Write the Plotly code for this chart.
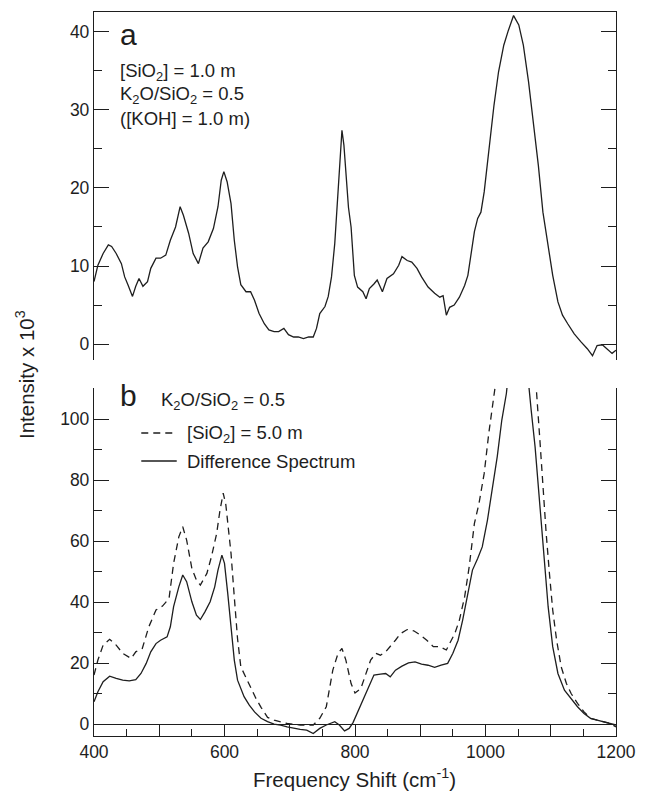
import plotly.graph_objects as go

# ---------------- data ----------------
# Panel a: [SiO2] = 1.0 m spectrum
a_freq = [400, 406, 414, 422, 427, 434, 442, 447, 452, 459, 464, 469, 475, 482, 487, 495, 502, 510, 517, 525,
          532, 537, 545, 552, 560, 567, 575, 583, 590, 595, 599, 604, 610, 615, 620, 625, 633, 640, 646, 653,
          661, 668, 676, 683, 691, 698, 706, 713, 721, 729, 736, 741, 746, 754, 759, 764, 769, 774, 777, 780,
          783, 787, 790, 794, 799, 804, 812, 817, 822, 829, 834, 842, 849, 859, 867, 872, 880, 887, 895, 902,
          912, 922, 930, 935, 940, 945, 952, 960, 968, 973, 978, 983, 988, 993, 998, 1005, 1013, 1020, 1028, 1035,
          1043, 1051, 1058, 1066, 1073, 1081, 1088, 1096, 1103, 1111, 1118, 1126, 1136, 1146, 1156, 1164, 1171, 1179, 1186, 1194,
          1200]
a_int = [8.0, 10.1, 11.6, 12.7, 12.5, 11.6, 10.3, 8.6, 7.6, 6.1, 7.4, 8.4, 7.4, 8.0, 9.7, 11.0, 11.0, 11.4, 13.3, 15.0,
         17.6, 16.5, 14.2, 11.6, 10.3, 12.3, 13.1, 14.8, 17.6, 21.0, 22.1, 20.8, 18.0, 13.3, 9.9, 7.6, 6.7, 6.7, 5.6, 3.9,
         2.6, 1.8, 1.6, 1.6, 2.0, 1.2, 0.9, 0.9, 0.7, 0.9, 0.9, 2.0, 3.9, 4.8, 6.1, 8.6, 12.9, 18.9, 23.5, 27.4,
         25.5, 20.5, 17.5, 15.0, 8.8, 7.3, 6.7, 5.8, 7.1, 7.7, 8.2, 6.7, 8.4, 9.0, 10.1, 11.2, 10.7, 10.5, 9.7, 8.6,
         7.3, 6.5, 6.0, 6.2, 3.7, 4.7, 5.0, 6.0, 7.5, 8.8, 11.4, 14.4, 16.1, 16.9, 19.5, 25.0, 30.6, 34.9, 38.3, 40.2,
         42.1, 40.9, 38.3, 33.6, 28.9, 22.9, 16.9, 12.6, 8.8, 5.4, 3.7, 2.6, 1.3, 0.3, -0.6, -1.5, -0.2, -0.1, -0.6, -1.2,
         -0.8]

# Panel b: [SiO2] = 5.0 m spectrum (dashed)
b_dash_freq = [400, 406, 414, 424, 434, 444, 457, 464, 474, 484, 495, 505, 515, 522, 530, 536, 542, 550, 557, 563,
               573, 580, 588, 593, 598, 602, 605, 610, 615, 620, 625, 632, 640, 648, 656, 666, 676, 696, 716, 736,
               746, 756, 766, 774, 780, 786, 794, 800, 809, 817, 824, 832, 839, 847, 854, 862, 870, 880, 890, 900,
               910, 920, 930, 940, 945, 953, 960, 968, 975, 983, 990, 998, 1005, 1013, 1020, 1030, 1040, 1050, 1060, 1070,
               1078, 1083, 1088, 1093, 1098, 1103, 1109, 1116, 1124, 1131, 1141, 1151, 1161, 1171, 1181, 1191, 1200]
b_dash = [16.1, 21.0, 25.9, 27.8, 25.9, 23.2, 21.5, 23.7, 24.8, 31.9, 37.4, 38.7, 41.2, 52.7, 61.4, 64.7, 60.3, 51.0, 47.2, 45.6,
          49.4, 54.9, 62.5, 70.0, 75.7, 72.0, 66.0, 56.0, 41.7, 28.0, 18.8, 15.5, 12.2, 8.5, 5.5, 2.2, 1.3, 0.2, -0.3, -0.3,
          1.9, 5.7, 17.7, 23.2, 24.8, 21.0, 13.3, 10.2, 11.7, 16.6, 21.0, 23.2, 22.6, 23.7, 25.4, 27.5, 29.7, 31.0, 30.6, 29.2,
          27.5, 25.4, 25.4, 24.3, 26.4, 29.7, 34.1, 41.7, 51.6, 65.8, 72.3, 82.2, 95.3, 108.4, 120.0, 138.0, 150.0, 150.0, 140.0, 125.0,
          109.5, 94.2, 77.8, 62.5, 49.4, 37.4, 27.5, 18.8, 13.3, 10.1, 6.8, 4.0, 1.9, 1.3, 0.8, 0.2, -0.9]

# Panel b: difference spectrum (solid)
b_diff_freq = [400, 406, 414, 424, 434, 444, 454, 464, 472, 480, 487, 495, 502, 512, 517, 522, 530, 536, 542, 550,
               557, 563, 570, 578, 585, 590, 596, 600, 605, 610, 615, 620, 625, 630, 638, 646, 656, 666, 676, 686,
               696, 706, 716, 726, 736, 746, 756, 769, 776, 784, 791, 797, 801, 807, 814, 822, 829, 839, 847, 854,
               862, 872, 882, 892, 902, 912, 922, 932, 942, 950, 958, 965, 973, 980, 988, 995, 1003, 1010, 1018, 1025,
               1032, 1040, 1050, 1060, 1066, 1070, 1076, 1081, 1086, 1091, 1096, 1103, 1111, 1121, 1131, 1141, 1151, 1161, 1171, 1181,
               1191, 1200]
b_diff = [7.3, 10.6, 13.9, 15.7, 15.0, 14.4, 14.2, 14.6, 16.6, 19.9, 23.7, 26.4, 27.5, 28.6, 31.9, 38.5, 45.0, 48.9, 46.7, 40.1,
          35.7, 34.3, 36.8, 40.1, 45.0, 50.5, 55.4, 52.7, 42.8, 30.8, 21.0, 14.4, 12.0, 9.0, 6.2, 4.0, 1.9, 0.8, 0.0, -0.3,
          -0.9, -1.4, -1.7, -2.0, -3.1, -1.4, -0.3, 0.8, -0.3, -2.2, -1.4, 0.5, 2.4, 5.1, 9.0, 12.8, 16.1, 16.4, 16.6, 15.5,
          17.7, 19.0, 20.1, 20.4, 19.7, 19.3, 18.6, 19.3, 19.9, 23.2, 27.5, 34.1, 42.8, 50.5, 54.3, 58.1, 66.9, 76.7, 87.7, 99.7,
          108.4, 125.0, 135.0, 125.0, 110.6, 103.0, 90.9, 77.8, 62.5, 49.4, 38.5, 25.4, 16.6, 11.1, 8.4, 5.7, 3.5, 1.9, 1.3, 0.8,
          0.4, -0.3]

x_range = [400, 1200]
a_yrange = [-2.05, 42.56]
b_yrange = [-3.9, 110.2]
x_labelled = [400, 600, 800, 1000, 1200]
x_mid = [500, 700, 900, 1100]
x_small = [450, 550, 650, 750, 850, 950, 1050, 1150]

# ---------------- figure ----------------
INK = "#1e1e1e"
FONT = "Liberation Sans, Arial, Helvetica, sans-serif"

fig = go.Figure()
fig.add_trace(go.Scatter(x=a_freq, y=a_int, mode="lines", xaxis="x", yaxis="y",
                         line=dict(color=INK, width=1.3), name="[SiO2] = 1.0 m"))
fig.add_trace(go.Scatter(x=b_dash_freq, y=b_dash, mode="lines", xaxis="x2", yaxis="y2",
                         line=dict(color=INK, width=1.3, dash="7px,5px"), name="[SiO2] = 5.0 m"))
fig.add_trace(go.Scatter(x=b_diff_freq, y=b_diff, mode="lines", xaxis="x2", yaxis="y2",
                         line=dict(color=INK, width=1.3), name="Difference Spectrum"))
# empty trace so the overlay axis carrying the short ticks is drawn
fig.add_trace(go.Scatter(x=[], y=[], mode="lines", xaxis="x3", yaxis="y2", hoverinfo="skip",
                         showlegend=False))

L, R, T, B = 94, 24, 12, 56
W, H = 648, 792
PW, PH = W - L - R, H - T - B


def xp(px):
    return (px - L) / PW


def yp(py):
    return (H - B - py) / PH


top_dom = [yp(360), 1.0]
bot_dom = [0.0, yp(388)]

tickfont = dict(family=FONT, size=17.5, color=INK)

fig.update_layout(
    width=W, height=H,
    margin=dict(l=L, r=R, t=T, b=B),
    paper_bgcolor="white", plot_bgcolor="white",
    showlegend=False,
    font=dict(family=FONT, color=INK),
    xaxis=dict(domain=[0, 1], anchor="y", range=x_range, side="top", showline=True,
               linecolor=INK, linewidth=1.3, ticks="", showticklabels=False,
               showgrid=False, zeroline=False),
    yaxis=dict(domain=top_dom, anchor="x", range=a_yrange, showline=True, linecolor=INK,
               linewidth=1.3, mirror="ticks", ticks="inside", ticklen=15, tickwidth=1.3,
               tickcolor=INK, tickmode="linear", tick0=0, dtick=10, tickfont=tickfont,
               minor=dict(ticks="inside", ticklen=8, tickwidth=1.3, tickcolor=INK,
                          tickmode="linear", tick0=0, dtick=5),
               showgrid=False, zeroline=False),
    xaxis2=dict(domain=[0, 1], anchor="y2", range=x_range, showline=True, linecolor=INK,
                linewidth=1.3, ticks="inside", ticklen=12, tickwidth=1.3, tickcolor=INK,
                tickmode="array", tickvals=x_labelled, tickfont=tickfont,
                minor=dict(ticks="inside", ticklen=12, tickwidth=1.3, tickcolor=INK,
                           tickvals=x_mid),
                showgrid=False, zeroline=False),
    xaxis3=dict(domain=[0, 1], anchor="y2", overlaying="x2", range=x_range, showline=False,
                ticks="inside", ticklen=7, tickwidth=1.3, tickcolor=INK,
                tickmode="array", tickvals=x_small, showticklabels=False,
                showgrid=False, zeroline=False),
    yaxis2=dict(domain=bot_dom, anchor="x2", range=b_yrange, showline=True, linecolor=INK,
                linewidth=1.3, mirror="ticks", ticks="inside", ticklen=15, tickwidth=1.3,
                tickcolor=INK, tickmode="linear", tick0=0, dtick=20, tickfont=tickfont,
                minor=dict(ticks="inside", ticklen=8, tickwidth=1.3, tickcolor=INK,
                           tickmode="linear", tick0=0, dtick=10),
                showgrid=False, zeroline=True, zerolinecolor=INK, zerolinewidth=1.3),
)

ann_font = dict(family=FONT, size=18.5, color=INK)
big_font = dict(family=FONT, size=30, color=INK)
title_font = dict(family=FONT, size=20.5, color=INK)


def text(px, py, s, f, xanchor="left"):
    fig.add_annotation(x=xp(px), y=yp(py), xref="paper", yref="paper", text=s,
                       showarrow=False, xanchor=xanchor, yanchor="middle", font=f)


# panel a labels
text(118, 35, "a", big_font)
text(118, 72, "[SiO<sub>2</sub>] = 1.0 m", ann_font)
text(118, 95, "K<sub>2</sub>O/SiO<sub>2</sub> = 0.5", ann_font)
text(118, 118, "([KOH] = 1.0 m)", ann_font)

# panel b labels and key
text(118, 395, "b", big_font)
text(160, 401, "K<sub>2</sub>O/SiO<sub>2</sub> = 0.5", ann_font)
text(186, 434, "[SiO<sub>2</sub>] = 5.0 m", ann_font)
text(186, 461, "Difference Spectrum", ann_font)

fig.add_shape(type="line", xref="paper", yref="paper", x0=xp(142), x1=xp(177), y0=yp(433), y1=yp(433),
              line=dict(color=INK, width=1.3, dash="7px,5px"))
fig.add_shape(type="line", xref="paper", yref="paper", x0=xp(142), x1=xp(178), y0=yp(461), y1=yp(461),
              line=dict(color=INK, width=1.3))

# axis titles
fig.add_annotation(x=xp(24), y=yp(375), xref="paper", yref="paper",
                   text="Intensity x 10<sup>3</sup>", textangle=-90, showarrow=False,
                   xanchor="center", yanchor="middle", font=title_font)
fig.add_annotation(x=xp(358), y=yp(778), xref="paper", yref="paper",
                   text="Frequency Shift (cm<sup>-1</sup>)", showarrow=False,
                   xanchor="center", yanchor="middle", font=title_font)

fig.write_html("out.html")
